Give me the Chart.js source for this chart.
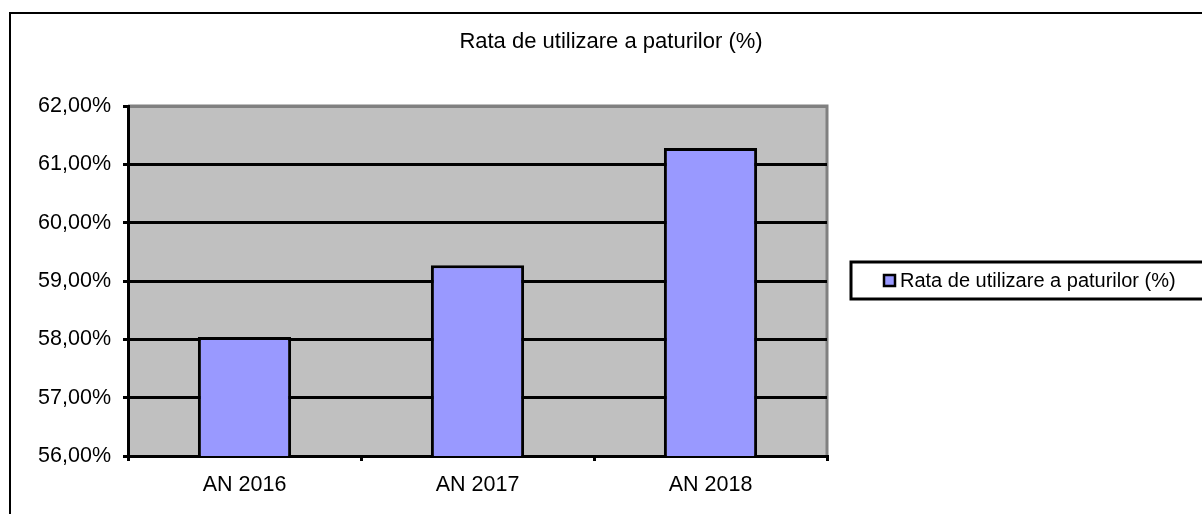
<!DOCTYPE html>
<html>
<head>
<meta charset="utf-8">
<script src="https://cdn.jsdelivr.net/npm/chart.js@4"></script>
<style>
  body { margin: 0; background: #fff; }
</style>
</head>
<body>
<canvas id="chart" width="1202" height="514"></canvas>
<script>
const title = 'Rata de utilizare a paturilor (%)';
const categories = ['AN 2016', 'AN 2017', 'AN 2018'];
const rates = [58.04, 59.27, 61.28];
const yMin = 56;
const yMax = 62;

const font = "'Liberation Sans', Arial, sans-serif";

// frame, title, plot background and legend
const decor = {
  id: 'decor',
  beforeDraw(chart) {
    const ctx = chart.ctx;
    const a = chart.chartArea;
    ctx.save();
    ctx.fillStyle = '#fff';
    ctx.fillRect(0, 0, chart.width, chart.height);
    ctx.strokeStyle = '#000';
    ctx.lineWidth = 2;
    ctx.strokeRect(10, 13, 1220, 540);

    ctx.fillStyle = '#c0c0c0';
    ctx.fillRect(a.left, a.top, a.right - a.left, a.bottom - a.top);
    ctx.strokeStyle = '#808080';
    ctx.lineWidth = 3;
    ctx.beginPath();
    ctx.moveTo(a.left, a.top);
    ctx.lineTo(a.right, a.top);
    ctx.lineTo(a.right, a.bottom);
    ctx.stroke();

    ctx.fillStyle = '#000';
    ctx.font = '22px ' + font;
    ctx.textAlign = 'center';
    ctx.textBaseline = 'middle';
    ctx.fillText(title, 611, 42);
    ctx.restore();
  },
  afterDraw(chart) {
    const ctx = chart.ctx;
    const ds = chart.data.datasets[0];
    ctx.save();
    ctx.fillStyle = '#fff';
    ctx.strokeStyle = '#000';
    ctx.lineWidth = 3;
    ctx.fillRect(851, 262, 400, 37);
    ctx.strokeRect(851, 262, 400, 37);
    ctx.fillStyle = ds.backgroundColor;
    ctx.lineWidth = 2.5;
    ctx.fillRect(884, 275, 11, 11);
    ctx.strokeRect(884, 275, 11, 11);
    ctx.fillStyle = '#000';
    ctx.font = '20px ' + font;
    ctx.textAlign = 'left';
    ctx.textBaseline = 'middle';
    ctx.fillText(ds.label, 900, 281);
    ctx.restore();
  }
};

new Chart(document.getElementById('chart'), {
  type: 'bar',
  data: {
    labels: categories,
    datasets: [{
      label: title,
      data: rates,
      backgroundColor: '#9999ff',
      borderColor: '#000',
      borderWidth: 3,
      categoryPercentage: 1,
      barPercentage: 0.4
    }]
  },
  options: {
    responsive: false,
    animation: false,
    devicePixelRatio: 1,
    layout: { padding: { top: 106, right: 375, bottom: 0, left: 0 } },
    plugins: {
      legend: { display: false },
      title: { display: false },
      tooltip: { enabled: false }
    },
    scales: {
      x: {
        afterFit: s => { s.height = 58; },
        grid: {
          drawOnChartArea: false,
          tickLength: 5,
          tickColor: '#000',
          lineWidth: 3
        },
        border: { color: '#000', width: 3 },
        ticks: { color: '#000', padding: 11, font: { family: font, size: 21.5 } }
      },
      y: {
        min: yMin,
        max: yMax,
        afterFit: s => { s.width = 128; },
        grid: {
          color: c => (c.tick && c.tick.value === yMax ? '#808080' : '#000'),
          tickColor: '#000',
          tickLength: 5,
          lineWidth: 3
        },
        border: { color: '#000', width: 3 },
        ticks: {
          stepSize: 1,
          color: '#000',
          padding: 12,
          font: { family: font, size: 21.5 },
          callback: v => v.toFixed(2).replace('.', ',') + '%'
        }
      }
    }
  },
  plugins: [decor]
});
</script>
</body>
</html>
